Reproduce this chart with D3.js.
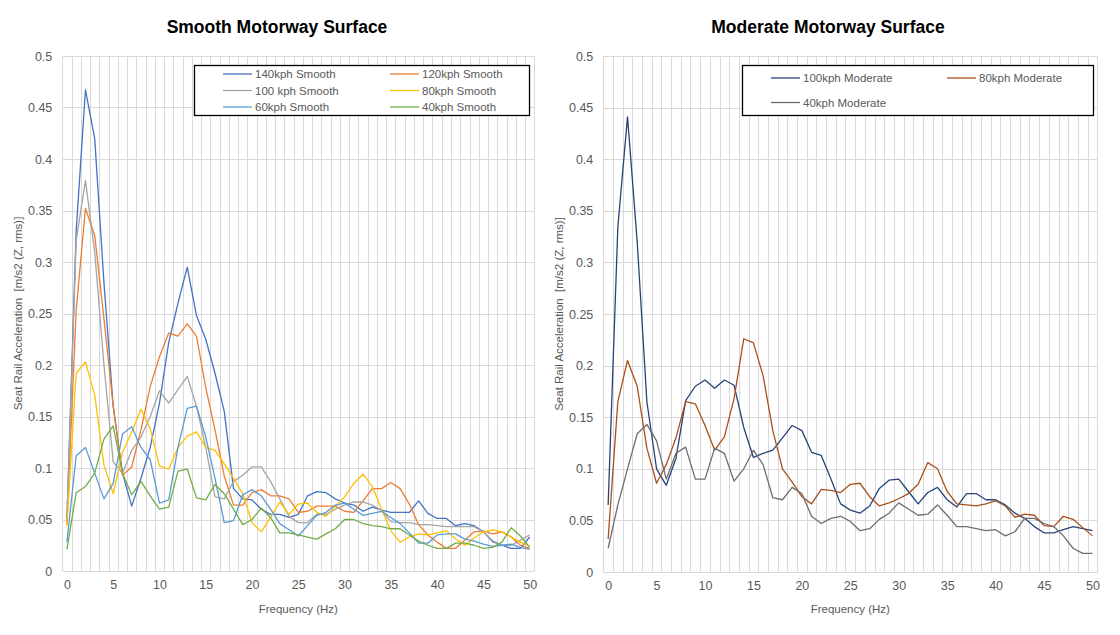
<!DOCTYPE html>
<html><head><meta charset="utf-8">
<script src="https://cdn.jsdelivr.net/npm/d3@7"></script>
<style>
body{margin:0;background:#fff;}
svg{display:block;font-family:"Liberation Sans",Arial,sans-serif;}
</style></head>
<body>
<svg id="chart" width="1120" height="635"></svg>
<script>
// ---- DATA ----
const freqs = [0,1,2,3,4,5,6,7,8,9,10,11,12,13,14,15,16,17,18,19,20,21,22,23,24,25,26,27,28,29,30,31,32,33,34,35,36,37,38,39,40,41,42,43,44,45,46,47,48,49,50];
const xTickValues = [0,5,10,15,20,25,30,35,40,45,50];
const yTickValues = [0,0.05,0.1,0.15,0.2,0.25,0.3,0.35,0.4,0.45,0.5];
const yTickLabels = ["0","0.05","0.1","0.15","0.2","0.25","0.3","0.35","0.4","0.45","0.5"];

const smooth140 = [0.05,0.33,0.467,0.42,0.28,0.16,0.095,0.063,0.09,0.12,0.163,0.222,0.26,0.295,0.248,0.225,0.192,0.155,0.08,0.07,0.069,0.06,0.055,0.055,0.052,0.055,0.073,0.077,0.076,0.07,0.066,0.064,0.058,0.062,0.059,0.057,0.057,0.057,0.068,0.056,0.051,0.051,0.044,0.046,0.044,0.038,0.029,0.025,0.022,0.022,0.033];
const smooth120 = [0.045,0.253,0.352,0.326,0.245,0.16,0.093,0.101,0.137,0.179,0.208,0.231,0.228,0.24,0.228,0.178,0.137,0.092,0.064,0.064,0.076,0.079,0.073,0.073,0.07,0.057,0.058,0.063,0.063,0.063,0.058,0.057,0.068,0.08,0.08,0.086,0.08,0.065,0.045,0.035,0.028,0.022,0.022,0.03,0.038,0.039,0.036,0.038,0.033,0.025,0.022];
const smooth100 = [0.05,0.321,0.379,0.31,0.2,0.106,0.095,0.117,0.13,0.15,0.175,0.163,0.176,0.189,0.16,0.12,0.072,0.07,0.087,0.093,0.101,0.101,0.087,0.07,0.053,0.047,0.047,0.055,0.055,0.06,0.064,0.067,0.067,0.064,0.059,0.048,0.047,0.047,0.045,0.045,0.044,0.043,0.043,0.043,0.043,0.038,0.028,0.025,0.025,0.03,0.035];
const smooth80 = [0.044,0.192,0.203,0.171,0.103,0.075,0.115,0.135,0.157,0.138,0.102,0.099,0.12,0.131,0.135,0.12,0.117,0.104,0.09,0.075,0.047,0.038,0.052,0.067,0.055,0.065,0.066,0.057,0.053,0.063,0.072,0.085,0.094,0.082,0.06,0.039,0.028,0.033,0.036,0.035,0.037,0.039,0.031,0.025,0.032,0.038,0.04,0.038,0.033,0.028,0.024];
const smooth60 = [0.028,0.112,0.12,0.095,0.07,0.085,0.133,0.14,0.12,0.108,0.066,0.069,0.12,0.158,0.16,0.13,0.09,0.047,0.049,0.074,0.079,0.073,0.06,0.046,0.04,0.034,0.044,0.054,0.057,0.064,0.066,0.06,0.054,0.056,0.058,0.052,0.046,0.037,0.027,0.027,0.035,0.036,0.036,0.031,0.029,0.026,0.024,0.025,0.026,0.023,0.021];
const smooth40 = [0.021,0.076,0.082,0.095,0.128,0.141,0.095,0.074,0.087,0.073,0.06,0.062,0.097,0.099,0.071,0.069,0.084,0.075,0.06,0.045,0.05,0.061,0.052,0.037,0.037,0.035,0.033,0.031,0.036,0.041,0.05,0.05,0.046,0.044,0.043,0.041,0.041,0.035,0.029,0.025,0.022,0.022,0.027,0.027,0.025,0.022,0.023,0.028,0.042,0.034,0.023];

const moderate100 = [0.065,0.334,0.441,0.32,0.165,0.1,0.084,0.11,0.166,0.18,0.186,0.178,0.186,0.181,0.14,0.111,0.115,0.118,0.13,0.142,0.137,0.116,0.113,0.09,0.066,0.06,0.057,0.064,0.081,0.089,0.09,0.078,0.066,0.077,0.082,0.07,0.063,0.076,0.076,0.07,0.07,0.065,0.057,0.052,0.044,0.038,0.038,0.041,0.044,0.042,0.04];
const moderate80 = [0.032,0.165,0.205,0.18,0.12,0.086,0.104,0.13,0.165,0.163,0.142,0.118,0.131,0.168,0.226,0.222,0.19,0.137,0.1,0.087,0.073,0.066,0.08,0.079,0.077,0.085,0.086,0.073,0.064,0.067,0.071,0.076,0.085,0.106,0.1,0.078,0.066,0.065,0.064,0.066,0.069,0.064,0.053,0.056,0.055,0.045,0.044,0.054,0.051,0.043,0.035];
const moderate40 = [0.023,0.065,0.1,0.134,0.143,0.127,0.09,0.115,0.121,0.09,0.09,0.12,0.115,0.088,0.1,0.118,0.104,0.072,0.07,0.082,0.076,0.054,0.047,0.052,0.054,0.049,0.04,0.042,0.051,0.057,0.067,0.061,0.055,0.056,0.065,0.055,0.044,0.044,0.042,0.04,0.041,0.035,0.039,0.052,0.052,0.047,0.044,0.035,0.023,0.018,0.018];

const smoothNames = ["140kph Smooth","120kph Smooth","100 kph Smooth","80kph Smooth","60kph Smooth","40kph Smooth"];
const moderateNames = ["100kph Moderate","80kph Moderate","40kph Moderate"];

// ---- STYLE / LAYOUT ----
const svg = d3.select("#chart");
const tickColor = "#595959", gridColor = "#D9D9D9";

function panel(cfg){
  const x = d3.scaleLinear().domain([-0.5,50.5]).range([cfg.left,cfg.right]);
  const y = d3.scaleLinear().domain([0,0.5]).range([cfg.bottom,cfg.top]);
  const g = svg.append("g");
  const px = v => Math.round(v)+0.5;
  const bounds = freqs.map(f=>f-0.5).concat([50.5]);
  g.append("g").selectAll("line").data(bounds).join("line")
    .attr("x1",d=>px(x(d))).attr("x2",d=>px(x(d)))
    .attr("y1",y(0.5)).attr("y2",y(0))
    .attr("stroke",gridColor).attr("stroke-width",1);
  g.append("g").selectAll("line").data(yTickValues).join("line")
    .attr("x1",x(-0.5)).attr("x2",x(50.5))
    .attr("y1",d=>px(y(d))).attr("y2",d=>px(y(d)))
    .attr("stroke",gridColor).attr("stroke-width",1);
  const ya = d3.axisLeft(y).tickValues(yTickValues).tickSize(0).tickPadding(10)
    .tickFormat((d,i)=>yTickLabels[i]);
  const yg = g.append("g").attr("transform",`translate(${x(-0.5)},0)`).call(ya);
  yg.select(".domain").remove();
  yg.selectAll("text").attr("fill",tickColor).style("font-size","12.5px").style("font-family","Liberation Sans, Arial, sans-serif");
  const xa = d3.axisBottom(x).tickValues(xTickValues).tickSize(0).tickPadding(9).tickFormat(d3.format("d"));
  const xg = g.append("g").attr("transform",`translate(0,${y(0)})`).call(xa);
  xg.select(".domain").remove();
  xg.selectAll("text").attr("fill",tickColor).style("font-size","12.5px").style("font-family","Liberation Sans, Arial, sans-serif");
  const line = d3.line().x((d,i)=>x(freqs[i])).y(d=>y(d));
  cfg.series.forEach(s=>{
    g.append("path").datum(s.values).attr("d",line).attr("fill","none")
      .attr("stroke",s.color).attr("stroke-width",1.3).attr("stroke-linejoin","round");
  });
  g.append("text").attr("x",cfg.titleX).attr("y",33).attr("text-anchor","middle")
    .attr("font-weight","bold").attr("font-size","17.5px").attr("fill","#000").text(cfg.title);
  g.append("text").attr("x",(cfg.left+cfg.right)/2).attr("y",613).attr("text-anchor","middle")
    .attr("font-size","11.5px").attr("fill",tickColor).text("Frequency (Hz)");
  g.append("text").attr("transform",`translate(${cfg.yTitleX},${(cfg.top+cfg.bottom)/2}) rotate(-90)`)
    .attr("text-anchor","middle").attr("font-size","11.5px").attr("fill",tickColor)
    .style("white-space","pre")
    .text("Seat Rail Acceleration  [m/s2 (Z, rms)]");
  const L = cfg.legend;
  g.append("rect").attr("x",L.x+0.5).attr("y",L.y+0.5).attr("width",L.w).attr("height",L.h)
    .attr("fill","#fff").attr("stroke","#000").attr("stroke-width",1.3);
  cfg.series.forEach((s,i)=>{
    const col = i%2, row = Math.floor(i/2);
    const lx = L.x + L.colX[col], ly = L.y + L.rowY[row];
    g.append("line").attr("x1",lx).attr("x2",lx+29).attr("y1",ly).attr("y2",ly)
      .attr("stroke",s.color).attr("stroke-width",1.3);
    g.append("text").attr("x",lx+32).attr("y",ly).attr("dy","0.35em")
      .attr("font-size","11.5px").attr("fill",tickColor).text(s.name);
  });
}

panel({
  left:62.3, right:534.3, top:56, bottom:571, titleX:277, yTitleX:22,
  title:"Smooth Motorway Surface",
  series:[
    {name:smoothNames[0], values:smooth140, color:"#4472C4"},
    {name:smoothNames[1], values:smooth120, color:"#ED7D31"},
    {name:smoothNames[2], values:smooth100, color:"#A5A5A5"},
    {name:smoothNames[3], values:smooth80, color:"#FFC000"},
    {name:smoothNames[4], values:smooth60, color:"#5B9BD5"},
    {name:smoothNames[5], values:smooth40, color:"#70AD47"}
  ],
  legend:{x:194, y:65, w:335, h:50, colX:[29,196], rowY:[9,25.5,42]}
});
panel({
  left:603.3, right:1097.3, top:56, bottom:572, titleX:828, yTitleX:563,
  title:"Moderate Motorway Surface",
  series:[
    {name:moderateNames[0], values:moderate100, color:"#264478"},
    {name:moderateNames[1], values:moderate80, color:"#A9501A"},
    {name:moderateNames[2], values:moderate40, color:"#6E6E6E"}
  ],
  legend:{x:742, y:65, w:351, h:50, colX:[29,205], rowY:[13,37.5]}
});
</script>
</body></html>
